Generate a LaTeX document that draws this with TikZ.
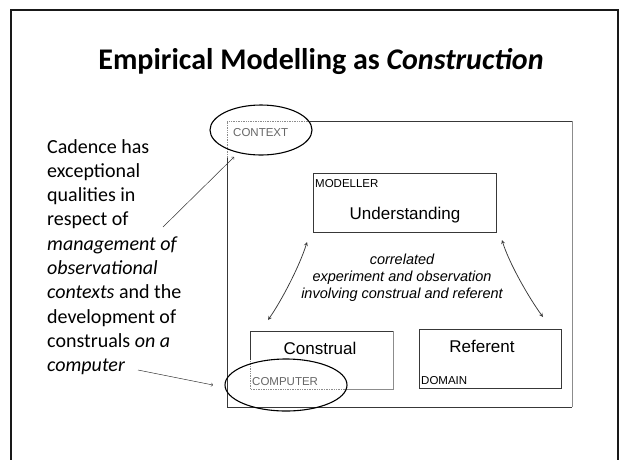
\documentclass[tikz,border=0pt]{standalone}
\usepackage{fontspec}
\setmainfont{Carlito}
\newfontfamily\arialfont{Liberation Sans}
\usepackage{tikz}
\usetikzlibrary{calc,shapes.geometric}

\definecolor{boxdark}{gray}{0.22}
\definecolor{boxlight}{gray}{0.55}
\definecolor{labelgray}{gray}{0.4}

\tikzset{
	boxline/.style={draw=boxdark, line width=0.9pt},
	softline/.style={draw=boxlight, line width=0.6pt},
	dotline/.style={draw=boxlight, densely dotted, line width=0.7pt},
	ring/.style={draw=black, ellipse, line width=1.1pt, inner sep=0pt},
	tag/.style={font=\arialfont\fontsize{11.5}{13}\selectfont, inner sep=0pt, anchor=base west},
	bigword/.style={font=\arialfont\fontsize{17}{20}\selectfont, inner sep=0pt, anchor=base},
	twoway/.style={<->, draw=boxdark, line width=0.75pt},
	pointer/.style={-to, draw=black!80, line width=0.5pt},
}

\begin{document}
\begin{tikzpicture}[>=stealth, x=1pt, y=-1pt]
	\useasboundingbox (0,0) rectangle (620,459);
	% % % % % % % % % % % % % % %
	%slide frame
	\draw[line width=2pt, black!90] (11,470) -- (11,10) -- (618,10) -- (618,470);
	\node[font=\bfseries\fontsize{30}{36}\selectfont, inner sep=0pt] (title) at (321,62) {Empirical Modelling as \textit{Construction}};
	%context box
	\draw[dotline] (227,158) -- (227,121) -- (310,121);
	\draw[boxline] (310,121) -- (572,121);
	\draw[softline] (572,121) -- (572,407);
	\draw[boxline] (227,158) -- (227,407) -- (572,407);
	\node[tag, text=labelgray] (context) at (233,136) {CONTEXT};
	%modeller box
	\draw[boxline] (313,173) rectangle (496,232);
	\node[tag] (modeller) at (315,187) {MODELLER};
	\node[bigword] (understanding) at (405,219) {Understanding};
	%middle text
	\node[font=\arialfont\itshape\fontsize{14.5}{17}\selectfont, align=center, inner sep=0pt, anchor=north] (corr) at (402,254)
		{correlated\\ experiment and observation\\ involving construal and referent};
	%construal box
	\draw[boxline] (250,360) -- (250,331) -- (393,331);
	\draw[softline] (393,331) -- (393,389) -- (345,389);
	\draw[dotline] (345,389) -- (250,389) -- (250,360);
	\node[bigword] (construal) at (320,354) {Construal};
	\node[tag, text=labelgray] (computer) at (252,385) {COMPUTER};
	%referent box
	\draw[boxline] (419,329) rectangle (561,388);
	\node[bigword] (referent) at (482,352) {Referent};
	\node[tag] (domain) at (421,384) {DOMAIN};
	%rings
	\node[ring, minimum width=102pt, minimum height=50pt] (ctxring) at (261,130) {};
	\node[ring, minimum width=122pt, minimum height=52pt] (comring) at (286,385) {};
	%double arrows
	\coordinate (L1) at (307,242);
	\coordinate (L2) at (268,320);
	\coordinate (R1) at (502,240);
	\coordinate (R2) at (543,317);
	\draw[twoway] (L1) .. controls (300,265) and (282,300) .. (L2);
	\draw[twoway] (R1) .. controls (509,263) and (529,298) .. (R2);
	%left text
	\node[font=\fontsize{20}{24.3}\selectfont, align=left, inner sep=0pt, anchor=north west] (cadence) at (47,139)
		{Cadence has\\ exceptional\\ qualities in\\ respect of\\ \textit{management of}\\ \textit{observational}\\ \textit{contexts} and the\\ development of\\ construals \textit{on a}\\ \textit{computer}};
	\coordinate (P1) at (163,227);
	\coordinate (P2) at (234,157);
	\coordinate (Q1) at (138,370);
	\coordinate (Q2) at (213,385);
	\draw[pointer] (P1) -- (P2);
	\draw[pointer] (Q1) -- (Q2);
\end{tikzpicture}
\end{document}
